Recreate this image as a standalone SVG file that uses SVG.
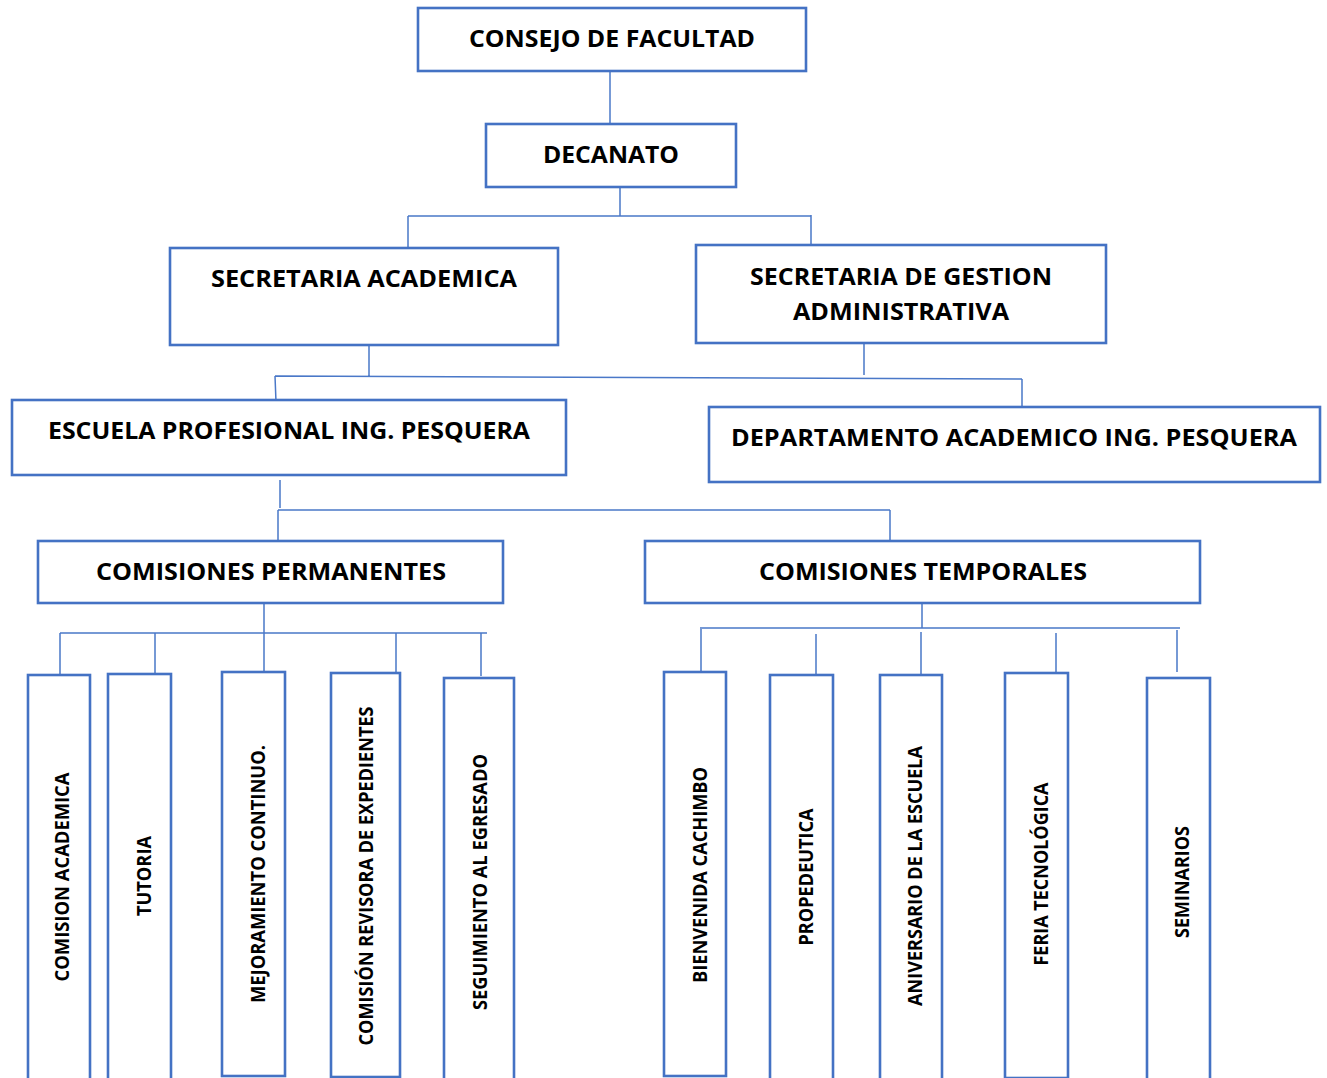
<svg xmlns="http://www.w3.org/2000/svg" width="1327" height="1078" viewBox="0 0 1327 1078">
<style>
.box{fill:#fff;stroke:#4472c4;stroke-width:2.6}
.t{font-family:"Open Sans","Noto Sans","Liberation Sans",sans-serif;font-weight:bold;font-size:24px;fill:#000;text-anchor:middle}
.v{font-family:"Open Sans","Noto Sans","Liberation Sans",sans-serif;font-weight:bold;font-size:19px;fill:#000;text-anchor:middle}
.c{fill:none;stroke:#4a78c8;stroke-width:1.5}
</style>
<rect width="1327" height="1078" fill="#fff"/>
<g id="connectors">
<path class="c" d="M610 66V124"/>
<path class="c" d="M620 187V216M408 216H811M408 216V247M811 215V245"/>
<path class="c" d="M369 345V376M275 376L1022 379M275 376L276 402M1022 379V407M864 343V375"/>
<path class="c" d="M280 480V508M278 510H890M278 510V541M890 510V541"/>
<path class="c" d="M264 603V633M60 633H487M60 633V674M155 633V673M264 633V672M396 633V674M481 633V676"/>
<path class="c" d="M922 598V628M700 628H1180M701 629V672M816 634V674M921 632V674M1056 633V675M1177 630V672"/>
</g>
<g id="consejo"><rect class="box" x="418" y="8" width="388" height="63"/><text class="t" x="612" y="47" textLength="286" lengthAdjust="spacingAndGlyphs">CONSEJO DE FACULTAD</text></g>
<g id="decanato"><rect class="box" x="486" y="124" width="250" height="63"/><text class="t" x="611" y="163" textLength="136" lengthAdjust="spacingAndGlyphs">DECANATO</text></g>
<g id="sec-academica"><rect class="box" x="170" y="248" width="388" height="97"/><text class="t" x="364" y="287" textLength="306" lengthAdjust="spacingAndGlyphs">SECRETARIA ACADEMICA</text></g>
<g id="sec-gestion"><rect class="box" x="696" y="245" width="410" height="98"/><text class="t" x="901" y="285" textLength="302" lengthAdjust="spacingAndGlyphs">SECRETARIA DE GESTION</text><text class="t" x="901" y="320" textLength="216" lengthAdjust="spacingAndGlyphs">ADMINISTRATIVA</text></g>
<g id="escuela"><rect class="box" x="12" y="400" width="554" height="75"/><text class="t" x="289" y="439" textLength="482" lengthAdjust="spacingAndGlyphs">ESCUELA PROFESIONAL ING. PESQUERA</text></g>
<g id="departamento"><rect class="box" x="709" y="407" width="611" height="75"/><text class="t" x="1014" y="446" textLength="566" lengthAdjust="spacingAndGlyphs">DEPARTAMENTO ACADEMICO ING. PESQUERA</text></g>
<g id="com-permanentes"><rect class="box" x="38" y="541" width="465" height="62"/><text class="t" x="271" y="580" textLength="350" lengthAdjust="spacingAndGlyphs">COMISIONES PERMANENTES</text></g>
<g id="com-temporales"><rect class="box" x="645" y="541" width="555" height="62"/><text class="t" x="923" y="580" textLength="328" lengthAdjust="spacingAndGlyphs">COMISIONES TEMPORALES</text></g>
<g id="comision-academica"><rect class="box" x="28" y="675" width="62" height="410"/><text class="v" transform="translate(62 877) rotate(-90)" dy="7" textLength="209" lengthAdjust="spacingAndGlyphs">COMISION ACADEMICA</text></g>
<g id="tutoria"><rect class="box" x="108" y="674" width="63" height="410"/><text class="v" transform="translate(144 876) rotate(-90)" dy="7" textLength="80" lengthAdjust="spacingAndGlyphs">TUTORIA</text></g>
<g id="mejoramiento"><rect class="box" x="222" y="672" width="63" height="404"/><text class="v" transform="translate(258 874) rotate(-90)" dy="7" textLength="258" lengthAdjust="spacingAndGlyphs">MEJORAMIENTO CONTINUO.</text></g>
<g id="revisora"><rect class="box" x="331" y="673" width="69" height="404"/><text class="v" transform="translate(366 876) rotate(-90)" dy="7" textLength="339" lengthAdjust="spacingAndGlyphs">COMISIÓN REVISORA DE EXPEDIENTES</text></g>
<g id="seguimiento"><rect class="box" x="444" y="678" width="70" height="410"/><text class="v" transform="translate(480 882) rotate(-90)" dy="7" textLength="256" lengthAdjust="spacingAndGlyphs">SEGUIMIENTO AL EGRESADO</text></g>
<g id="bienvenida"><rect class="box" x="664" y="672" width="62" height="404"/><text class="v" transform="translate(700 875) rotate(-90)" dy="7" textLength="216" lengthAdjust="spacingAndGlyphs">BIENVENIDA CACHIMBO</text></g>
<g id="propedeutica"><rect class="box" x="770" y="675" width="63" height="410"/><text class="v" transform="translate(806 877) rotate(-90)" dy="7" textLength="137" lengthAdjust="spacingAndGlyphs">PROPEDEUTICA</text></g>
<g id="aniversario"><rect class="box" x="880" y="675" width="62" height="410"/><text class="v" transform="translate(915 876) rotate(-90)" dy="7" textLength="260" lengthAdjust="spacingAndGlyphs">ANIVERSARIO DE LA ESCUELA</text></g>
<g id="feria"><rect class="box" x="1005" y="673" width="63" height="405"/><text class="v" transform="translate(1041 874) rotate(-90)" dy="7" textLength="183" lengthAdjust="spacingAndGlyphs">FERIA TECNOLÓGICA</text></g>
<g id="seminarios"><rect class="box" x="1147" y="678" width="63" height="410"/><text class="v" transform="translate(1182 882) rotate(-90)" dy="7" textLength="112" lengthAdjust="spacingAndGlyphs">SEMINARIOS</text></g>
</svg>
